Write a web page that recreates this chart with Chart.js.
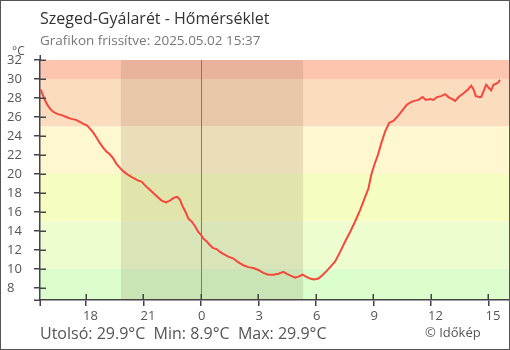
<!DOCTYPE html>
<html>
<head>
<meta charset="utf-8">
<script src="https://cdn.jsdelivr.net/npm/chart.js@4.4.0/dist/chart.umd.min.js"></script>
<style>
  html, body { margin: 0; padding: 0; background: #fff; }
</style>
</head>
<body>
<canvas id="chart" width="510" height="350"></canvas>
<script>
const titleText = 'Szeged-Gyálarét - Hőmérséklet';
const updatedText = 'Grafikon frissítve: 2025.05.02 15:37';
const creditText = '© Időkép';

// hours relative to midnight (negative = previous evening)
const hours = [-8.37, -8.25, -8.13, -7.99, -7.85, -7.68, -7.47, -7.26, -7.03, -6.77,
  -6.51, -6.33, -6.16, -5.94, -5.76, -5.64, -5.47, -5.29, -5.12, -4.95,
  -4.77, -4.60, -4.42, -4.25, -4.06, -3.80, -3.54, -3.27, -3.10, -2.92,
  -2.70, -2.49, -2.28, -2.05, -1.83, -1.62, -1.41, -1.24, -1.10, -0.96,
  -0.78, -0.66, -0.49, -0.31, -0.14, 0.00, 0.12, 0.30, 0.47, 0.64,
  0.82, 0.99, 1.16, 1.43, 1.69, 1.95, 2.21, 2.47, 2.73, 2.99,
  3.25, 3.51, 3.78, 4.04, 4.30, 4.48, 4.68, 4.91, 5.08, 5.31,
  5.48, 5.69, 5.90, 6.13, 6.36, 6.56, 6.74, 7.00, 7.26, 7.52,
  7.78, 8.04, 8.30, 8.53, 8.74, 8.88, 9.05, 9.23, 9.40, 9.61,
  9.82, 10.04, 10.27, 10.51, 10.74, 10.97, 11.14, 11.35, 11.56, 11.73,
  11.96, 12.13, 12.31, 12.53, 12.74, 12.91, 13.09, 13.26, 13.44, 13.70,
  13.93, 14.10, 14.22, 14.34, 14.52, 14.62, 14.74, 14.88, 15.00, 15.14,
  15.26, 15.39, 15.49, 15.60];
const temps = [28.9, 28.3, 27.7, 27.2, 26.8, 26.5, 26.3, 26.2, 26.0, 25.8,
  25.7, 25.5, 25.3, 25.1, 24.7, 24.4, 23.9, 23.3, 22.8, 22.4,
  22.1, 21.7, 21.1, 20.7, 20.3, 19.9, 19.6, 19.3, 19.2, 18.8,
  18.4, 18.0, 17.6, 17.2, 17.0, 17.2, 17.5, 17.6, 17.3, 16.6,
  15.9, 15.3, 15.0, 14.5, 13.9, 13.6, 13.2, 12.9, 12.5, 12.2,
  12.1, 11.8, 11.6, 11.3, 11.1, 10.7, 10.4, 10.2, 10.1, 9.9,
  9.6, 9.4, 9.4, 9.5, 9.7, 9.5, 9.3, 9.1, 9.2, 9.4,
  9.2, 9.0, 8.9, 9.0, 9.4, 9.8, 10.2, 10.8, 11.8, 12.9,
  13.9, 15.0, 16.2, 17.4, 18.5, 19.9, 21.0, 22.0, 23.2, 24.5,
  25.4, 25.6, 26.1, 26.7, 27.3, 27.6, 27.7, 27.8, 28.1, 27.8,
  27.9, 27.8, 28.1, 28.2, 28.4, 28.1, 27.9, 27.7, 28.1, 28.5,
  28.9, 29.3, 28.9, 28.2, 28.1, 28.1, 28.7, 29.4, 29.1, 28.8,
  29.4, 29.5, 29.6, 29.9];

const xTicks = [-6, -3, 0, 3, 6, 9, 12, 15];
const yTicks = [8, 10, 12, 14, 16, 18, 20, 22, 24, 26, 28, 30, 32];

// temperature bands (upper, lower) and their fills
const bandTops = [32, 30, 25, 20, 15, 10];
const bandBottoms = [30, 25, 20, 15, 10, 0];
const bandColors = ['#fdc5b0', '#fcdcbf', '#fef7cf', '#f5fdc0', '#eefdd0', '#dcfdcc'];

const sunset = -4.18;
const sunrise = 5.33;

const axisColor = '#444';
const textColor = '#555';
const fontFamily = '"Open Sans", "Noto Sans", sans-serif';

const decor = {
  id: 'decor',
  beforeDraw(chart) {
    const { ctx, chartArea: a, scales: { x, y } } = chart;
    ctx.save();
    ctx.fillStyle = '#fff';
    ctx.fillRect(0, 0, chart.width, chart.height);
    ctx.beginPath();
    ctx.rect(a.left, a.top, a.right - a.left, a.bottom - a.top);
    ctx.clip();
    bandTops.forEach((t, i) => {
      const y1 = y.getPixelForValue(t === 32 ? y.max : t);
      const y2 = y.getPixelForValue(Math.max(bandBottoms[i], y.min));
      ctx.fillStyle = bandColors[i];
      ctx.fillRect(a.left, y1, a.right - a.left, y2 - y1);
    });
    const nx1 = x.getPixelForValue(sunset);
    const nx2 = x.getPixelForValue(sunrise);
    ctx.fillStyle = 'rgba(60,30,0,0.11)';
    ctx.fillRect(nx1, a.top, nx2 - nx1, a.bottom - a.top);
    ctx.restore();
  },
  beforeDatasetsDraw(chart) {
    const { ctx, chartArea: a, scales: { x } } = chart;
    // midnight marker
    const mx = Math.round(x.getPixelForValue(0));
    ctx.save();
    ctx.fillStyle = '#1e90ff';
    ctx.fillRect(mx, a.top, 1, a.bottom - a.top);
    ctx.restore();
  },
  afterDraw(chart) {
    const { ctx, chartArea: a, scales: { x, y } } = chart;
    ctx.save();
    // inner halves of the crossing ticks and axis overshoot
    ctx.strokeStyle = axisColor;
    ctx.lineWidth = 1.5;
    ctx.beginPath();
    yTicks.forEach(v => {
      const py = Math.round(y.getPixelForValue(v)) + 0.25;
      ctx.moveTo(a.left, py);
      ctx.lineTo(a.left + 6, py);
    });
    xTicks.forEach(v => {
      const px = Math.round(x.getPixelForValue(v)) + 0.25;
      ctx.moveTo(px, a.bottom - 6);
      ctx.lineTo(px, a.bottom);
    });
    ctx.moveTo(a.left + 0.25, a.top - 5);
    ctx.lineTo(a.left + 0.25, a.top);
    ctx.moveTo(a.left + 0.25, a.bottom);
    ctx.lineTo(a.left + 0.25, a.bottom + 6);
    ctx.moveTo(a.left - 6, a.bottom + 0.25);
    ctx.lineTo(a.left, a.bottom + 0.25);
    ctx.stroke();

    // texts
    ctx.textBaseline = 'alphabetic';
    ctx.textAlign = 'left';
    ctx.fillStyle = '#333';
    ctx.font = '16px ' + fontFamily;
    ctx.fillText(titleText, 40, 24);
    ctx.fillStyle = '#777';
    ctx.font = '13.5px ' + fontFamily;
    ctx.fillText(updatedText, 40, 45);
    ctx.fillStyle = textColor;
    ctx.font = '12px ' + fontFamily;
    ctx.fillText('°C', 12, 55);

    const last = temps[temps.length - 1];
    const min = Math.min(...temps);
    const max = Math.max(...temps);
    ctx.font = '16px ' + fontFamily;
    ctx.fillText('Utolsó: ' + last.toFixed(1) + '°C  Min: ' + min.toFixed(1) +
      '°C  Max: ' + max.toFixed(1) + '°C', 40, 339);
    ctx.font = '13px ' + fontFamily;
    ctx.fillText(creditText, 425, 337);

    // frame
    ctx.strokeStyle = '#555';
    ctx.lineWidth = 1;
    ctx.strokeRect(0.5, 0.5, chart.width - 1, chart.height - 1);
    ctx.restore();
  }
};

new Chart(document.getElementById('chart'), {
  type: 'line',
  data: {
    datasets: [{
      data: hours.map((h, i) => ({ x: h, y: temps[i] })),
      borderColor: '#f5473b',
      borderWidth: 2,
      pointRadius: 0,
      tension: 0,
      fill: false
    }]
  },
  options: {
    responsive: false,
    animation: false,
    layout: { padding: { left: 7, right: 1, top: 60, bottom: 0 } },
    plugins: { legend: { display: false }, tooltip: { enabled: false } },
    scales: {
      x: {
        type: 'linear',
        min: -8.4,
        max: 16.07,
        afterBuildTicks: s => { s.ticks = xTicks.map(v => ({ value: v })); },
        afterFit: s => { s.height = 50; },
        ticks: {
          callback: v => String(((v % 24) + 24) % 24),
          align: 'start',
          labelOffset: -3,
          padding: 2,
          maxRotation: 0,
          autoSkip: false,
          color: textColor,
          font: { family: fontFamily, size: 13 }
        },
        grid: { drawOnChartArea: false, tickLength: 6, color: axisColor, lineWidth: 1.5 },
        border: { color: axisColor, width: 1.5 }
      },
      y: {
        min: 6.74,
        max: 32,
        afterBuildTicks: s => { s.ticks = yTicks.map(v => ({ value: v })); },
        afterFit: s => { s.width = 33; },
        ticks: {
          crossAlign: 'far',
          autoSkip: false,
          color: textColor,
          font: { family: fontFamily, size: 13 }
        },
        grid: { drawOnChartArea: false, tickLength: 6, color: axisColor, lineWidth: 1.5 },
        border: { color: axisColor, width: 1.5 }
      }
    }
  },
  plugins: [decor]
});
</script>
</body>
</html>
